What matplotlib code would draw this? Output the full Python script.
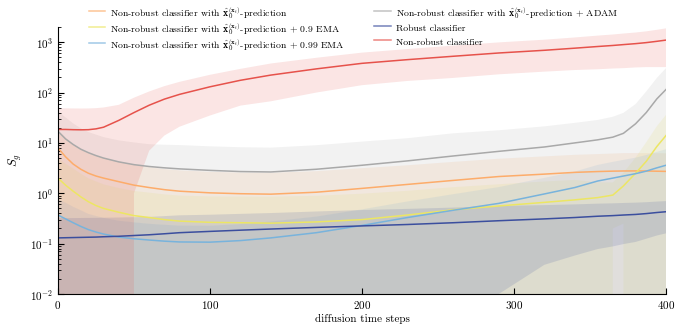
import matplotlib
matplotlib.use("Agg")
import matplotlib.pyplot as plt
import numpy as np

# Сетка шагов, в которых сняты значения кривых
steps = [0, 5, 10, 15, 20, 25, 30, 40, 50, 60, 70, 80, 100, 120, 140, 170, 200, 230,
         260, 290, 320, 340, 355, 365, 372, 380, 387, 394, 400]

# Non-robust classifier
red_mean = [18.5, 18.5, 18.3, 18.2, 18.3, 19, 20.5, 28, 40, 56, 74, 92, 130, 175, 222, 295, 380, 450,
            525, 610, 690, 760, 820, 860, 895, 935, 980, 1040, 1100]
red_std = [30, 30, 30, 30, 30, 30, 30, 29, 39, 49, 60, 71, 95, 120, 155, 195, 240, 280,
           330, 380, 430, 480, 530, 560, 590, 620, 660, 720, 780]

# + ADAM
gray_mean = [17, 12, 9.3, 7.5, 6.4, 5.6, 5.0, 4.2, 3.7, 3.4, 3.2, 3.05, 2.85, 2.7, 2.65, 3.0, 3.6, 4.4,
             5.5, 6.8, 8.3, 10, 11.5, 13, 15.5, 24, 40, 75, 115]
gray_std = [25, 20, 15, 12, 10, 9, 8, 7, 6.5, 6, 6, 6, 5.7, 5.5, 5.4, 6, 7, 8,
            10, 11, 13, 15, 17, 20, 24, 35, 65, 120, 190]

# x0-prediction
orange_mean = [7.9, 5.3, 3.8, 3.0, 2.5, 2.2, 2.0, 1.7, 1.45, 1.3, 1.18, 1.1, 1.02, 0.98, 0.96, 1.05, 1.25, 1.5,
               1.8, 2.15, 2.4, 2.6, 2.7, 2.75, 2.77, 2.78, 2.77, 2.74, 2.72]
orange_std = [10, 7.5, 5.5, 4.5, 3.8, 3.3, 3.0, 2.6, 2.2, 2.0, 1.85, 1.75, 1.65, 1.6, 1.6, 1.7, 1.9, 2.1,
              2.4, 2.7, 3.0, 3.2, 3.3, 3.4, 3.5, 3.5, 3.5, 3.5, 3.5]

# + 0.9 EMA
yellow_mean = [2.0, 1.45, 1.1, 0.85, 0.68, 0.57, 0.5, 0.42, 0.36, 0.33, 0.3, 0.28, 0.265, 0.26, 0.255, 0.27, 0.3, 0.37,
               0.47, 0.56, 0.66, 0.74, 0.82, 0.92, 1.4, 2.5, 4.3, 8.5, 14]
yellow_std = [3, 2.4, 2, 1.6, 1.3, 1.15, 1.0, 0.85, 0.75, 0.7, 0.65, 0.62, 0.6, 0.6, 0.6, 0.62, 0.68, 0.75,
              0.85, 0.95, 1.05, 1.1, 0.83, 0.72, 1.15, 2.6, 6, 13, 22]

# + 0.99 EMA
blue_mean = [0.37, 0.31, 0.26, 0.22, 0.19, 0.17, 0.155, 0.135, 0.125, 0.118, 0.112, 0.108, 0.107, 0.115, 0.13, 0.165, 0.23, 0.33,
             0.46, 0.63, 0.97, 1.3, 1.75, 2.0, 2.2, 2.45, 2.75, 3.2, 3.6]
blue_std = [0.4, 0.34, 0.28, 0.24, 0.2, 0.185, 0.17, 0.15, 0.14, 0.13, 0.125, 0.12, 0.12, 0.13, 0.145, 0.18, 0.25, 0.36,
            0.5, 0.7, 1.05, 1.4, 1.9, 2.2, 2.4, 2.65, 3.0, 3.45, 3.9]

# Robust classifier
navy_mean = [0.13, 0.131, 0.132, 0.133, 0.134, 0.135, 0.137, 0.14, 0.145, 0.15, 0.157, 0.165, 0.175, 0.185, 0.195, 0.21, 0.225, 0.24,
             0.26, 0.285, 0.31, 0.33, 0.35, 0.36, 0.37, 0.38, 0.395, 0.415, 0.43]
navy_std = [0.19, 0.19, 0.19, 0.19, 0.19, 0.19, 0.19, 0.19, 0.19, 0.19, 0.195, 0.2, 0.2, 0.205, 0.21, 0.225, 0.24, 0.25,
            0.26, 0.275, 0.272, 0.272, 0.272, 0.272, 0.272, 0.272, 0.27, 0.27, 0.27]

labels = [
    r"Non-robust classifier with $\hat{\mathbf{x}}_0^{(\mathbf{x}_t)}$-prediction",
    r"Non-robust classifier with $\hat{\mathbf{x}}_0^{(\mathbf{x}_t)}$-prediction + 0.9 EMA",
    r"Non-robust classifier with $\hat{\mathbf{x}}_0^{(\mathbf{x}_t)}$-prediction + 0.99 EMA",
    r"Non-robust classifier with $\hat{\mathbf{x}}_0^{(\mathbf{x}_t)}$-prediction + ADAM",
    "Robust classifier",
    "Non-robust classifier",
]

plt.rcParams["font.family"] = "cmr10"
plt.rcParams["mathtext.fontset"] = "cm"
plt.rcParams["axes.formatter.use_mathtext"] = True

series = [
    (orange_mean, orange_std, "#fdac6a"),
    (yellow_mean, yellow_std, "#ece663"),
    (blue_mean, blue_std, "#78b3dc"),
    (gray_mean, gray_std, "#a9a9a9"),
    (navy_mean, navy_std, "#3b4e9e"),
    (red_mean, red_std, "#e6524b"),
]

fig = plt.figure(figsize=(6.78, 3.27), dpi=100)
ax = fig.add_axes([0.0855, 0.1009, 0.8968, 0.8165])
ax.set_yscale("log")

x = np.array(steps)
for (mean, std, color), label in zip(series, labels):
    m = np.array(mean)
    s = np.array(std)
    ax.fill_between(x, m - s, m + s, color=color, alpha=0.15, linewidth=0)
    ax.plot(x, m, color=color, lw=1.1, label=label)

ax.set_xlim(0, 400)
ax.set_ylim(1e-2, 2e3)
ax.set_xticks([0, 100, 200, 300, 400])
ax.set_xlabel("diffusion time steps", fontsize=8, labelpad=2)
ax.set_ylabel(r"$S_g$", fontsize=9)
ax.tick_params(which="both", direction="in", labelsize=8)
ax.tick_params(which="major", length=4)
ax.tick_params(which="minor", length=2)
ax.spines["top"].set_visible(False)
ax.spines["right"].set_visible(False)

# handleheight выравнивает высоту строк с формулой и без неё
leg = fig.legend(loc="upper left", bbox_to_anchor=(0.124, 1.0), ncol=2, frameon=False,
                 fontsize=7.0, handlelength=1.7, handleheight=1.9, handletextpad=0.5,
                 columnspacing=3.0, labelspacing=0.0, borderpad=0.0)
for h in leg.get_lines():
    h.set_alpha(0.7)

fig.savefig("out.png", dpi=100)
